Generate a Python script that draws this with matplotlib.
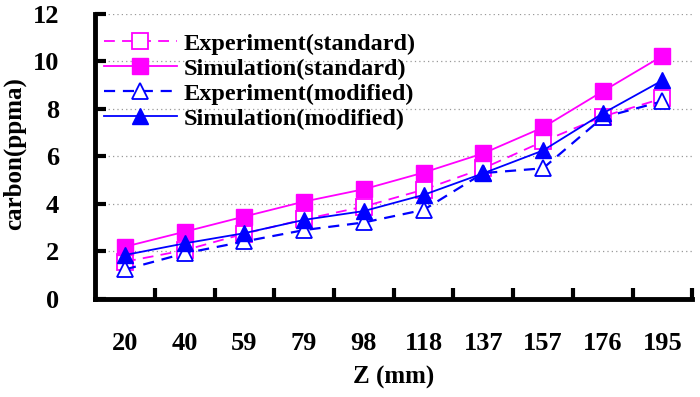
import numpy as np
import matplotlib
matplotlib.use("Agg")
import matplotlib.pyplot as plt

plt.rcParams['font.family'] = ['Liberation Serif', 'DejaVu Serif']
plt.rcParams['font.weight'] = 'bold'

z_labels = ['20', '40', '59', '79', '98', '118', '137', '157', '176', '195']
exp_standard = [1.57, 2.05, 2.75, 3.35, 3.89, 4.6, 5.5, 6.63, 7.68, 8.44]
sim_standard = [2.2, 2.83, 3.47, 4.1, 4.62, 5.32, 6.13, 7.22, 8.74, 10.23]
exp_modified = [1.24, 1.92, 2.42, 2.9, 3.22, 3.75, 5.3, 5.5, 7.64, 8.32]
sim_modified = [1.85, 2.34, 2.77, 3.33, 3.7, 4.38, 5.29, 6.25, 7.81, 9.2]

magenta = '#ff00ff'
blue = '#0000ff'

fig = plt.figure(figsize=(7, 3.97), dpi=100)
ax = fig.add_axes([0.136, 0.247, 0.853, 0.718])

x = np.arange(len(z_labels))

ax.plot(x, exp_standard, color=magenta, ls=(0, (6, 4)), lw=1.3,
        marker='s', ms=11, mfc='white', mec=magenta, mew=1.3,
        label='Experiment(standard)')
ax.plot(x, sim_standard, color=magenta, ls='-', lw=1.3,
        marker='s', ms=11, mfc=magenta, mec=magenta,
        label='Simulation(standard)')
ax.plot(x, exp_modified, color=blue, ls=(0, (5, 3.5)), lw=1.6,
        marker='^', ms=12, mfc='white', mec=blue, mew=1.3,
        label='Experiment(modified)')
ax.plot(x, sim_modified, color=blue, ls='-', lw=1.3,
        marker='^', ms=12, mfc=blue, mec=blue,
        label='Simulation(modified)')

ax.set_xlim(-0.5, 9.5)
ax.set_ylim(0, 12)
ax.set_yticks(np.arange(0, 13, 2))
ax.yaxis.grid(True, ls=(0, (1, 2.5)), color='#999999', lw=0.9)
ax.set_axisbelow(True)

ax.set_xticks(x)
ax.set_xticklabels(z_labels)
ax.set_xticks(np.arange(0.5, 10, 1), minor=True)
ax.tick_params(axis='x', which='major', length=0, pad=24, labelsize=19)
ax.tick_params(axis='x', which='minor', direction='in', length=8, width=3)
ax.tick_params(axis='y', direction='in', length=8, width=3, pad=26, labelsize=19)

for s in ['top', 'right']:
    ax.spines[s].set_visible(False)
for s in ['left', 'bottom']:
    ax.spines[s].set_linewidth(3.5)

ax.set_ylabel('carbon(ppma)', fontsize=18, fontweight='bold')
ax.yaxis.set_label_coords(-0.116, 0.51)
ax.set_xlabel('Z (mm)', fontsize=18, fontweight='bold', labelpad=8)

ax.legend(loc='upper left', bbox_to_anchor=(-0.01, 0.985), frameon=False,
          fontsize=17.5, handlelength=3.0, handletextpad=0.3,
          labelspacing=0.12, borderaxespad=0.2)

fig.savefig('out.png', dpi=100)
